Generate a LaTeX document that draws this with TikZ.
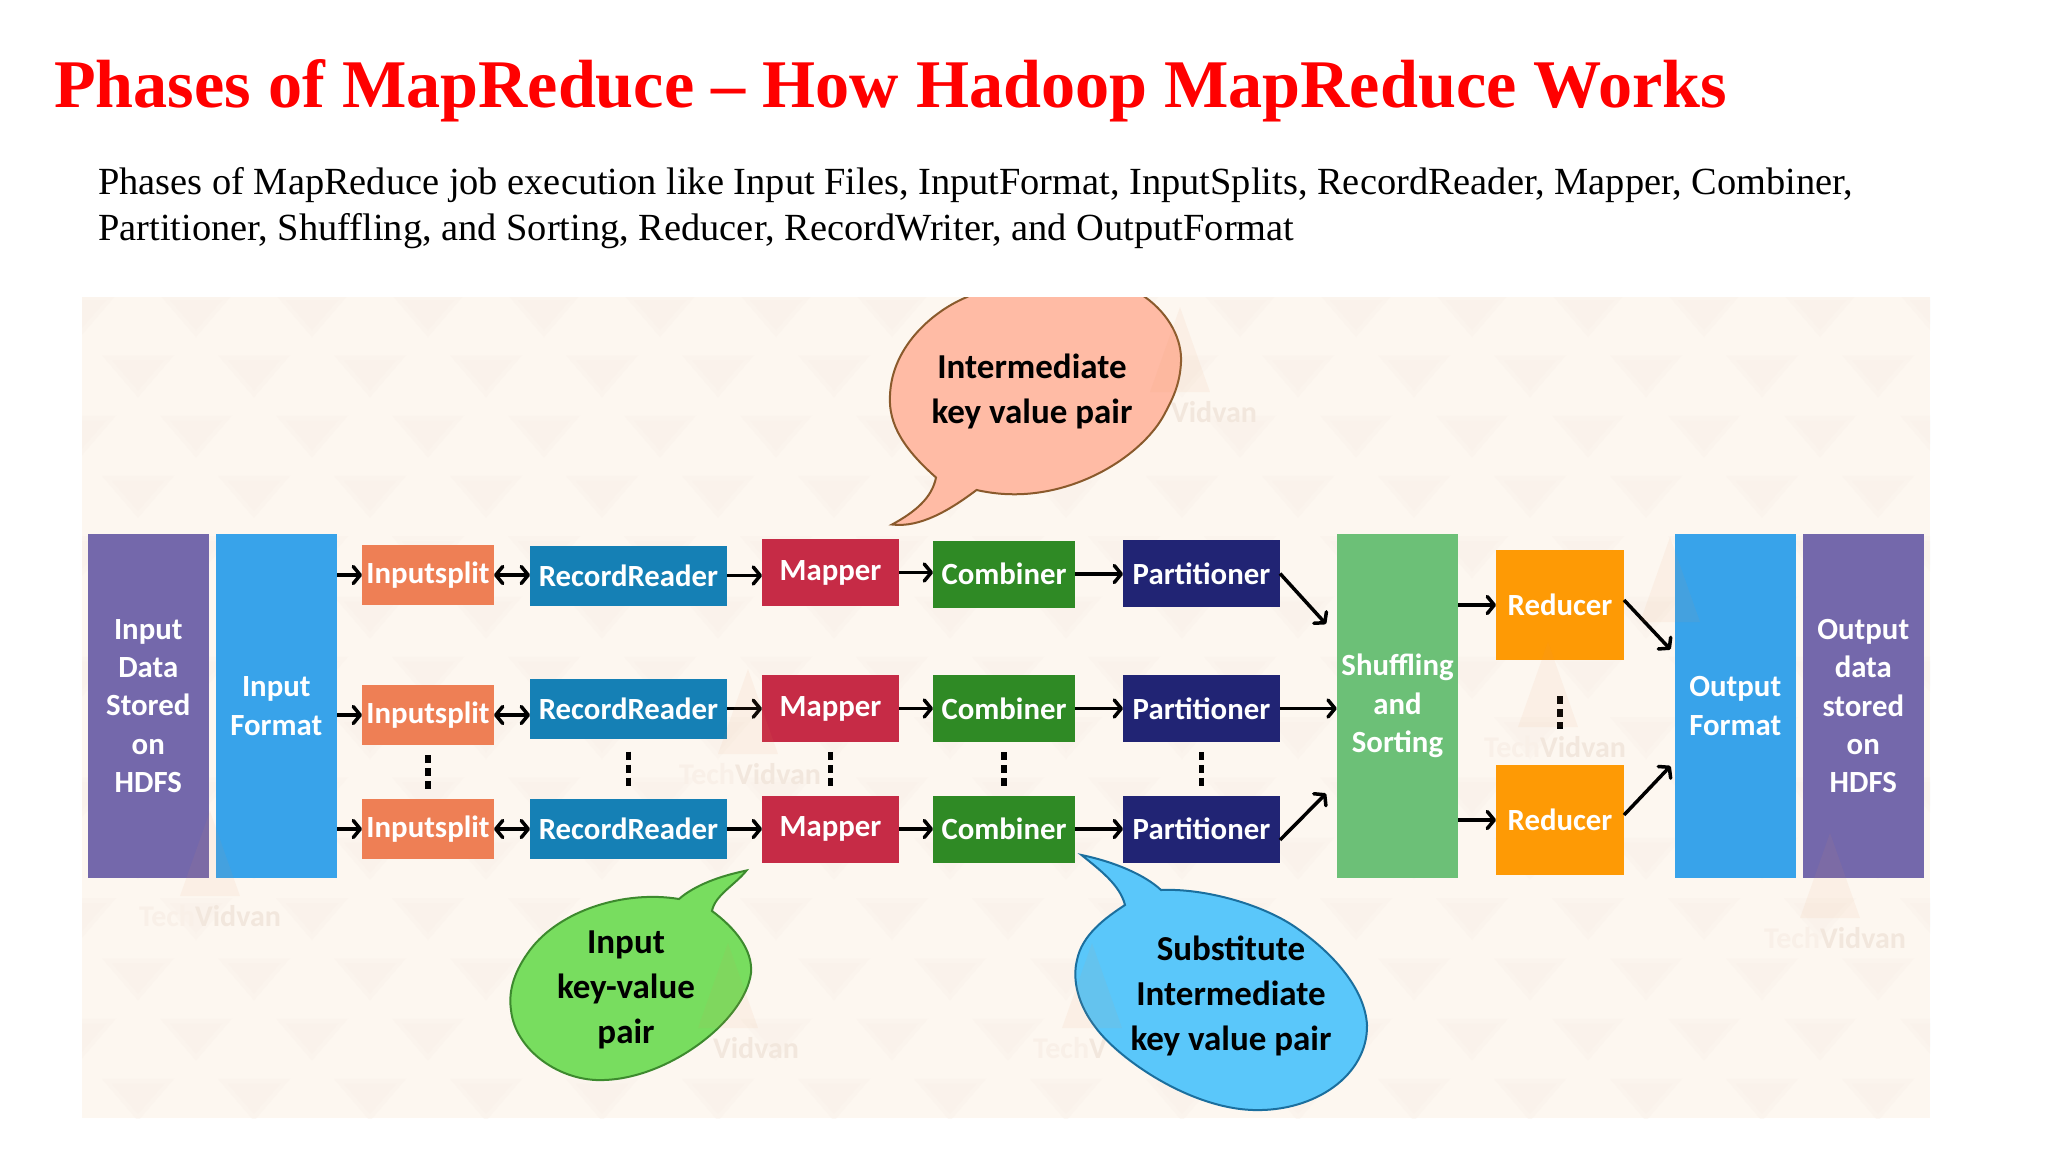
\documentclass[tikz,border=0pt]{standalone}
\usepackage{fontspec}
\setmainfont{Liberation Serif}
\newfontfamily\boxfont{Carlito}
\usepackage{tikz}
\usetikzlibrary{arrows.meta, positioning}

\definecolor{pagebg}{HTML}{FDF7F0}
\definecolor{patterntri}{HTML}{F9EFE8}
\definecolor{colpurple}{HTML}{7468AB}
\definecolor{colblue}{HTML}{38A3EA}
\definecolor{colsplit}{HTML}{EE7F55}
\definecolor{colreader}{HTML}{1580B5}
\definecolor{colmapper}{HTML}{C62B46}
\definecolor{colcomb}{HTML}{2F8A25}
\definecolor{colpart}{HTML}{212474}
\definecolor{colshuf}{HTML}{6CC077}
\definecolor{colred}{HTML}{FE9A05}
\definecolor{colwater}{HTML}{E8935A}
\definecolor{wmstrong}{HTML}{F2E7DD}
\definecolor{wmweak}{HTML}{F9F0E8}

\newcommand{\wmname}{{\color{wmweak}Tech}Vidvan}

\begin{document}
\begin{tikzpicture}[x=1pt, y=-1pt,
    phase/.style={inner sep=0pt, outer sep=0pt, text=white, align=center,
        font=\boxfont\bfseries\fontsize{30.8}{38.3}\selectfont},
    tallbox/.style={phase, minimum width=121.5pt, minimum height=344pt},
    splitbox/.style={phase, fill=colsplit, minimum width=132pt, minimum height=60pt},
    readerbox/.style={phase, fill=colreader, minimum width=197pt, minimum height=60pt},
    mapperbox/.style={phase, fill=colmapper, minimum width=137pt, minimum height=67pt},
    combbox/.style={phase, fill=colcomb, minimum width=142pt, minimum height=67pt},
    partbox/.style={phase, fill=colpart, minimum width=157pt, minimum height=67pt},
    reducerbox/.style={phase, fill=colred, minimum width=128pt, minimum height=110pt},
    flow/.style={line width=3.5pt, -{Straight Barb[length=7pt,width=17pt,round]}},
    flowboth/.style={line width=3.5pt, {Straight Barb[length=7pt,width=17pt,round]}-{Straight Barb[length=7pt,width=17pt,round]}},
    dotline/.style={line width=5.5pt, dash pattern=on 8pt off 5pt, shorten <=#1, shorten >=#1},
    bubble/.style={line width=2pt},
    bubbletext/.style={inner sep=0pt, align=center, text=black,
        font=\boxfont\bfseries\fontsize{35}{45}\selectfont},
    watermark/.style={text=wmstrong, inner sep=0pt,
        font=\boxfont\bfseries\fontsize{30}{30}\selectfont}]
    \useasboundingbox (0,0) rectangle (2048,1152);
    \fill[white] (0,0) rectangle (2048,1152);

    \node[anchor=base west, inner sep=0pt, text={rgb,255:red,255;green,0;blue,0}, font=\bfseries\fontsize{68.2}{70}\selectfont] (title) at (54,107.5) {Phases of MapReduce -- How Hadoop MapReduce Works};
    \node[anchor=base west, inner sep=0pt, font=\fontsize{38.4}{46}\selectfont] (introa) at (98,194.5) {Phases of MapReduce job execution like Input Files, InputFormat, InputSplits, RecordReader, Mapper, Combiner,};
    \node[anchor=base west, inner sep=0pt, font=\fontsize{38.4}{46}\selectfont] (introb) at (98,240.5) {Partitioner, Shuffling, and Sorting, Reducer, RecordWriter, and OutputFormat};

    \begin{scope}
        \clip (82,297) rectangle (1930,1118);
        \fill[pagebg] (82,297) rectangle (1930,1118);
        % faint triangles of the backdrop
        \foreach \r in {0,...,13}
            \foreach \c in {-14,...,3} {
                \pgfmathsetmacro{\tx}{1588+116*\c-58*mod(\r,2)}
                \pgfmathsetmacro{\ty}{334+60.3*\r}
                \fill[patterntri, opacity=0.35] (\tx,\ty+3) -- (\tx-36,\ty-39) -- (\tx+36,\ty-39) -- cycle;
                \fill[patterntri, opacity=0.35] (\tx,\ty-4) -- (\tx-26,\ty-34) -- (\tx+26,\ty-34) -- cycle;
            }

        \node[watermark] (wmtop) at (1214,412) {Vidvan};
        \node[watermark] (wmmid) at (750,774) {\wmname};
        \node[watermark] (wmleft) at (210,916) {\wmname};
        \node[watermark] (wmgreen) at (756,1048) {Vidvan};
        \node[watermark] (wmred) at (1555,747) {\wmname};
        \node[watermark] (wmright) at (1835,938) {\wmname};
        \node[watermark] (wmblue) at (1070,1048) {{\color{wmweak}Tech}V};

        % speech bubbles
        \draw[bubble, fill={rgb,255:red,255;green,187;blue,165}, draw={rgb,255:red,138;green,90;blue,44}]
            (892,524.5) .. controls (915,512) and (932,498) .. (936,477.5)
            .. controls (905,450) and (888,425) .. (890,395)
            .. controls (892,345) and (935,310) .. (967,297)
            .. controls (1010,270) and (1100,265) .. (1145,297)
            .. controls (1170,315) and (1182,340) .. (1181,362)
            .. controls (1180,385) and (1172,400) .. (1164,415)
            .. controls (1145,450) and (1090,490) .. (1024,494)
            .. controls (1005,495) and (990,493) .. (976.5,490)
            .. controls (950,510) and (920,528) .. (892,524.5) -- cycle;
    \end{scope}

    \draw[bubble, fill={rgb,255:red,120;green,221;blue,95}, draw={rgb,255:red,61;green,138;blue,46}]
        (746.5,870.5) .. controls (720,876) and (695,885) .. (679,899)
        .. controls (625,890) and (560,910) .. (530,950)
        .. controls (515,970) and (508,990) .. (511,1010)
        .. controls (515,1050) and (560,1082) .. (604,1080)
        .. controls (670,1078) and (745,1020) .. (751,973)
        .. controls (753,950) and (735,928) .. (712,911)
        .. controls (715,895) and (735,885) .. (746.5,870.5) -- cycle;
    \draw[bubble, fill={rgb,255:red,90;green,199;blue,250}, draw={rgb,255:red,27;green,111;blue,158}]
        (1081.5,855) .. controls (1115,862) and (1145,875) .. (1161,890)
        .. controls (1205,888) and (1265,905) .. (1298,929)
        .. controls (1335,955) and (1365,990) .. (1367,1025)
        .. controls (1368,1075) and (1315,1112) .. (1253,1110)
        .. controls (1190,1108) and (1120,1060) .. (1096,1028)
        .. controls (1078,1005) and (1072,980) .. (1077,960)
        .. controls (1082,935) and (1105,918) .. (1125,905)
        .. controls (1120,885) and (1100,870) .. (1081.5,855) -- cycle;
    \node[bubbletext] (bubblepeach) at (1032,391.5) {Intermediate\\key value pair};
    \node[bubbletext] (bubblegreen) at (626,989.5) {Input\\key-value\\pair};
    \node[bubbletext] (bubbleblue) at (1231,995.5) {Substitute\\Intermediate\\key value pair};

    % tall columns
    \node[tallbox, fill=colpurple] (indata) at (148.25,706) {Input\\Data\\Stored\\on\\HDFS};
    \node[tallbox, fill=colblue] (infmt) at (276.25,706) {Input\\Format};
    \node[tallbox, fill=colshuf] (shuf) at (1397.5,706) {Shuffling\\and\\Sorting};
    \node[tallbox, fill=colblue] (outfmt) at (1735.25,706) {Output\\Format};
    \node[tallbox, fill=colpurple] (outdata) at (1863.25,706) {Output\\data\\stored\\on\\HDFS};

    % three rows
    \node[splitbox] (splita) at (428,575) {Inputsplit};
    \node[readerbox] (readera) at (628.5,575.5) {RecordReader};
    \node[mapperbox] (mapa) at (830.5,572.5) {Mapper};
    \node[combbox] (comba) at (1004,574) {Combiner};
    \node[partbox] (parta) at (1201.5,573.5) {Partitioner};

    \node[splitbox] (splitb) at (428,715) {Inputsplit};
    \node[readerbox] (readerb) at (628.5,708.7) {RecordReader};
    \node[mapperbox] (mapb) at (830.5,708.5) {Mapper};
    \node[combbox] (combb) at (1004,708.5) {Combiner};
    \node[partbox] (partb) at (1201.5,708.5) {Partitioner};

    \node[splitbox] (splitc) at (428,829) {Inputsplit};
    \node[readerbox] (readerc) at (628.5,829) {RecordReader};
    \node[mapperbox] (mapc) at (830.5,829) {Mapper};
    \node[combbox] (combc) at (1004,829) {Combiner};
    \node[partbox] (partc) at (1201.5,829) {Partitioner};

    \node[reducerbox] (reda) at (1560,605) {Reducer};
    \node[reducerbox] (redb) at (1560,820) {Reducer};

    % free ends of the slanted arrows
    \coordinate (shufa) at (1326,624);
    \coordinate (shufc) at (1326,793.5);
    \coordinate (outa) at (1670.5,649.5);
    \coordinate (outb) at (1670.5,766);

    \draw[flow] (infmt.east |- splita.west) -- (splita.west);
    \draw[flow] (infmt.east |- splitb.west) -- (splitb.west);
    \draw[flow] (infmt.east |- splitc.west) -- (splitc.west);
    \draw[flowboth] (splita.east) -- (readera.west |- splita.east);
    \draw[flowboth] (splitb.east) -- (readerb.west |- splitb.east);
    \draw[flowboth] (splitc.east) -- (readerc.west |- splitc.east);
    \draw[flow] (readera.east) -- (mapa.west |- readera.east);
    \draw[flow] (readerb.east) -- (mapb.west |- readerb.east);
    \draw[flow] (readerc.east) -- (mapc.west |- readerc.east);
    \draw[flow] (mapa.east) -- (comba.west |- mapa.east);
    \draw[flow] (mapb.east) -- (combb.west |- mapb.east);
    \draw[flow] (mapc.east) -- (combc.west |- mapc.east);
    \draw[flow] (comba.east) -- (parta.west |- comba.east);
    \draw[flow] (combb.east) -- (partb.west |- combb.east);
    \draw[flow] (combc.east) -- (partc.west |- combc.east);
    \draw[flow] (parta.east) -- (shufa);
    \draw[flow] (partb.east) -- (shuf.west |- partb.east);
    \draw[flow] ([yshift=-11pt]partc.east) -- (shufc);
    \draw[flow] (shuf.east |- reda.west) -- (reda.west);
    \draw[flow] (shuf.east |- redb.west) -- (redb.west);
    \draw[flow] ([yshift=5pt]reda.east) -- (outa);
    \draw[flow] ([yshift=5pt]redb.east) -- (outb);

    \draw[dotline=10pt] (splitb.south) -- (splitc.north);
    \draw[dotline=13pt] (readerb.south) -- (readerc.north);
    \draw[dotline=10pt] (mapb.south) -- (mapc.north);
    \draw[dotline=10pt] (combb.south) -- (combc.north);
    \draw[dotline=10pt] (partb.south) -- (partc.north);
    \draw[dotline=36pt] (reda.south) -- (redb.north);

    % watermark logos lie on top of all
    \foreach \wx/\wy in {1180/412, 748/774, 210/916, 728/1048, 1548/747, 1830/938, 1092/1048, 1670/642}
        \fill[colwater, opacity=0.07] (\wx,\wy-105) -- (\wx-30,\wy-20) -- (\wx+30,\wy-20) -- cycle;
\end{tikzpicture}
\end{document}
